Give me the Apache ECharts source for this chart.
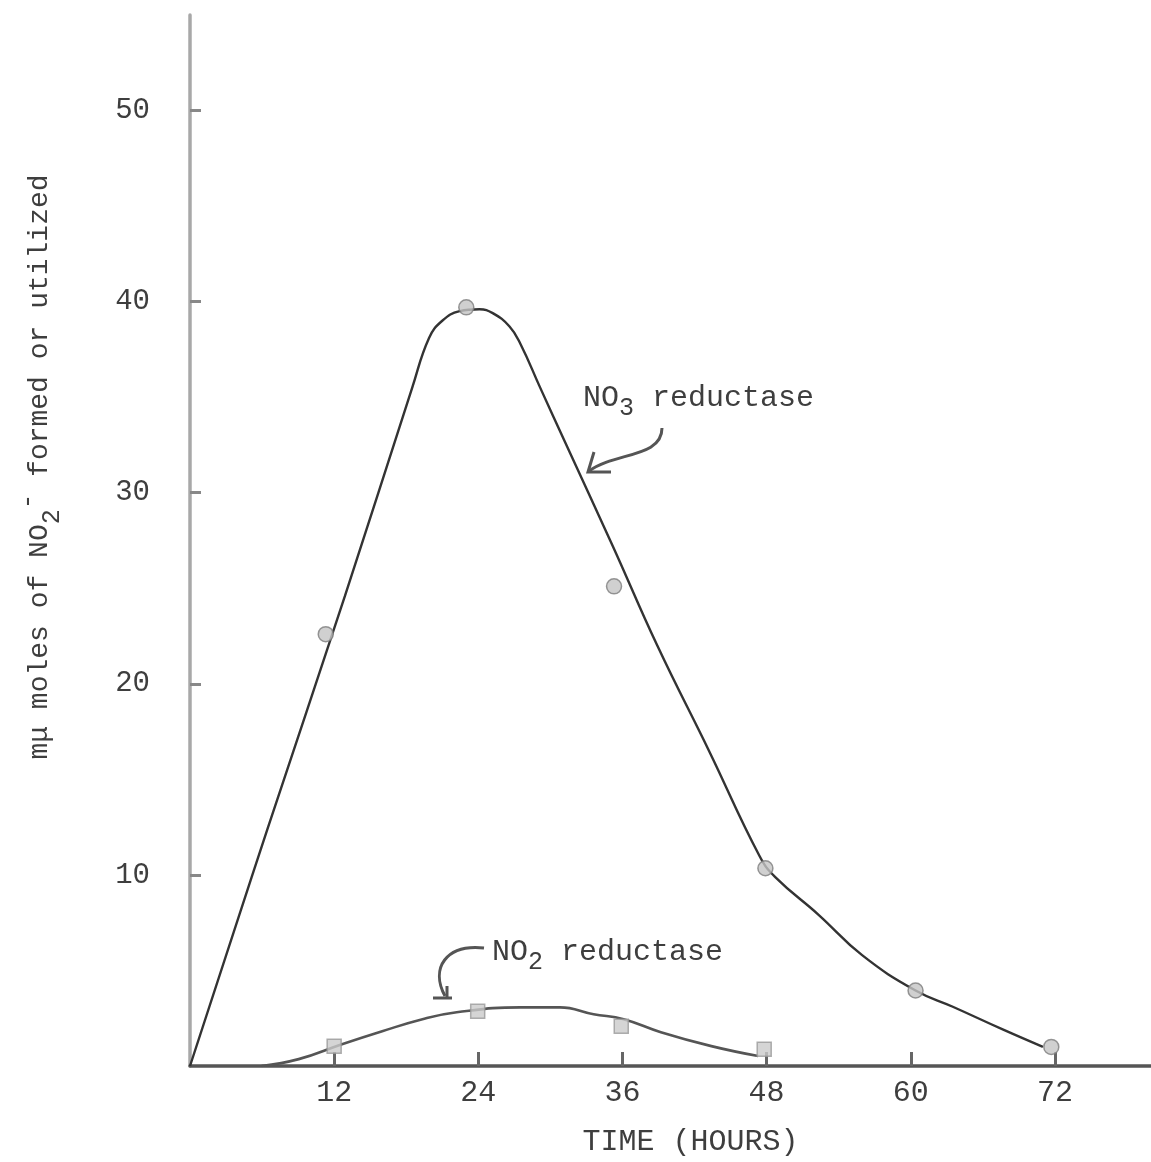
<!DOCTYPE html>
<html>
<head>
<meta charset="utf-8">
<script src="https://cdn.jsdelivr.net/npm/echarts@6/dist/echarts.min.js"></script>
<style>
html,body{margin:0;padding:0;background:#fff;}
#chart{width:1151px;height:1162px;}
</style>
</head>
<body>
<div id="chart"></div>
<script>
// ---- data ----
const hourTicks = [12, 24, 36, 48, 60, 72];
const valueTicks = [10, 20, 30, 40, 50];

// NO3 reductase: plotted points (circles)
const no3Hours  = [11.3, 23.0, 35.3, 47.9, 60.4, 71.7];
const no3Values = [22.6, 39.7, 25.1, 10.35, 3.95, 1.0];

// NO3 reductase: hand-drawn fitted curve
const no3CurveHours  = [0, 6.5, 12.9, 18.5, 19.9, 21.0, 22.45, 24.1, 25.2, 26.6, 27.5, 29.15, 31.4, 35.2, 38.9, 43.2, 47.4, 48.7, 52.35, 55.95, 60.4, 63.5, 67.7, 71.0];
const no3CurveValues = [0, 12.5, 24.6, 35.5, 38.1, 39.0, 39.5, 39.6, 39.4, 38.7, 37.8, 35.5, 32.4, 27.2, 22.0, 16.5, 11.0, 9.9, 7.9, 5.8, 3.95, 3.1, 1.9, 1.0];

// NO2 reductase: plotted points (squares)
const no2Hours  = [12.0, 23.95, 35.9, 47.8];
const no2Values = [1.04, 2.86, 2.08, 0.88];

// NO2 reductase: hand-drawn fitted curve
const no2CurveHours  = [5.95, 9.05, 12.65, 16.0, 19.35, 22.2, 27.5, 30.8, 33.6, 36.1, 39.2, 43.4, 47.3];
const no2CurveValues = [0, 0.36, 1.14, 1.82, 2.45, 2.81, 3.07, 3.07, 2.71, 2.45, 1.77, 1.04, 0.52];

const xTitle = 'TIME (HOURS)';
const yTitleParts = ['mμ moles of NO', '2', '-', ' formed or utilized'];
const no3Label = ['NO', '3', ' reductase'];
const no2Label = ['NO', '2', ' reductase'];

// ---- build ----
const zip = (a, b) => a.map((v, i) => [v, b[i]]);
const FONT = 'Liberation Mono';
const INK = '#3e3e3e';

const chart = echarts.init(document.getElementById('chart'), null, {renderer: 'canvas'});

const richSub = {
  sub: {fontSize: 25, fontFamily: FONT, color: INK, verticalAlign: 'bottom', lineHeight: 26},
  sup: {fontSize: 26, fontFamily: FONT, color: INK, verticalAlign: 'top', lineHeight: 26}
};

chart.setOption({
  backgroundColor: '#ffffff',
  animation: false,
  grid: {left: 190, right: 0, top: 15, bottom: 90, containLabel: false},
  xAxis: {
    type: 'value', min: 0, max: 80, interval: 12,
    name: xTitle, nameLocation: 'middle', nameGap: 61,
    nameTextStyle: {fontFamily: FONT, fontSize: 30, color: INK, padding: [0, 0, 0, 40]},
    axisLine: {show: true, lineStyle: {color: '#555', width: 3.5}},
    axisTick: {show: true, inside: true, length: 14, customValues: hourTicks, lineStyle: {color: '#666', width: 3}},
    axisLabel: {
      fontFamily: FONT, fontSize: 30, color: INK, margin: 12, customValues: hourTicks,
      formatter: v => hourTicks.includes(v) ? String(v) : ''
    },
    splitLine: {show: false}
  },
  yAxis: {
    type: 'value', min: 0, max: 55, interval: 10,
    axisLine: {show: true, lineStyle: {color: '#a8a8a8', width: 3.5}},
    axisTick: {show: true, inside: true, length: 11, customValues: valueTicks, lineStyle: {color: '#888', width: 3}},
    axisLabel: {
      fontFamily: FONT, fontSize: 29, color: INK, margin: 40, customValues: valueTicks,
      formatter: v => valueTicks.includes(v) ? String(v) : ''
    },
    splitLine: {show: false}
  },
  series: [
    {
      name: 'NO3 reductase curve', type: 'line', data: zip(no3CurveHours, no3CurveValues),
      smooth: 0.45, showSymbol: false, z: 3,
      lineStyle: {color: '#333', width: 2.4}
    },
    {
      name: 'NO2 reductase curve', type: 'line', data: zip(no2CurveHours, no2CurveValues),
      smooth: 0.45, showSymbol: false, z: 3,
      lineStyle: {color: '#555', width: 2.6}
    },
    {
      name: 'NO3 reductase', type: 'scatter', data: zip(no3Hours, no3Values),
      symbol: 'circle', symbolSize: 15, z: 5,
      itemStyle: {color: '#c4c4c4', borderColor: '#7d7d7d', borderWidth: 1.5}
    },
    {
      name: 'NO2 reductase', type: 'scatter', data: zip(no2Hours, no2Values),
      symbol: 'rect', symbolSize: 14, z: 5,
      itemStyle: {color: '#cbcbcb', borderColor: '#9a9a9a', borderWidth: 1.5}
    }
  ],
  graphic: [
    // y-axis title (rotated)
    {
      type: 'text', x: 40, y: 467, rotation: Math.PI / 2, z: 10,
      style: {
        text: yTitleParts[0] + '{sub|' + yTitleParts[1] + '}{sup|' + yTitleParts[2] + '}' + yTitleParts[3],
        fontFamily: FONT, fontSize: 28, fill: INK, lineHeight: 50,
        align: 'center', verticalAlign: 'middle', rich: richSub
      }
    },
    // NO3 reductase label
    {
      type: 'text', x: 583, y: 398, z: 10,
      style: {
        text: no3Label[0] + '{sub|' + no3Label[1] + '}' + no3Label[2],
        fontFamily: FONT, fontSize: 30, fill: INK, lineHeight: 46,
        align: 'left', verticalAlign: 'middle', rich: richSub
      }
    },
    // NO2 reductase label
    {
      type: 'text', x: 492, y: 952, z: 10,
      style: {
        text: no2Label[0] + '{sub|' + no2Label[1] + '}' + no2Label[2],
        fontFamily: FONT, fontSize: 30, fill: INK, lineHeight: 46,
        align: 'left', verticalAlign: 'middle', rich: richSub
      }
    },
    // NO3 arrow
    {
      type: 'bezierCurve', z: 10,
      shape: {x1: 662, y1: 428, cpx1: 662, cpy1: 458, cpx2: 615, cpy2: 452, x2: 589, y2: 471},
      style: {stroke: '#555', lineWidth: 3, fill: null}
    },
    {
      type: 'polyline', z: 10,
      shape: {points: [[594, 452], [588, 472], [611, 472]]},
      style: {stroke: '#555', lineWidth: 3, fill: null}
    },
    // NO2 arrow
    {
      type: 'bezierCurve', z: 10,
      shape: {x1: 484, y1: 948, cpx1: 446, cpy1: 944, cpx2: 430, cpy2: 968, x2: 445, y2: 996},
      style: {stroke: '#555', lineWidth: 3, fill: null}
    },
    {
      type: 'polyline', z: 10,
      shape: {points: [[433, 998], [452, 998]]},
      style: {stroke: '#555', lineWidth: 3, fill: null}
    },
    {
      type: 'polyline', z: 10,
      shape: {points: [[447, 986], [447, 998]]},
      style: {stroke: '#555', lineWidth: 3, fill: null}
    }
  ]
});
</script>
</body>
</html>
